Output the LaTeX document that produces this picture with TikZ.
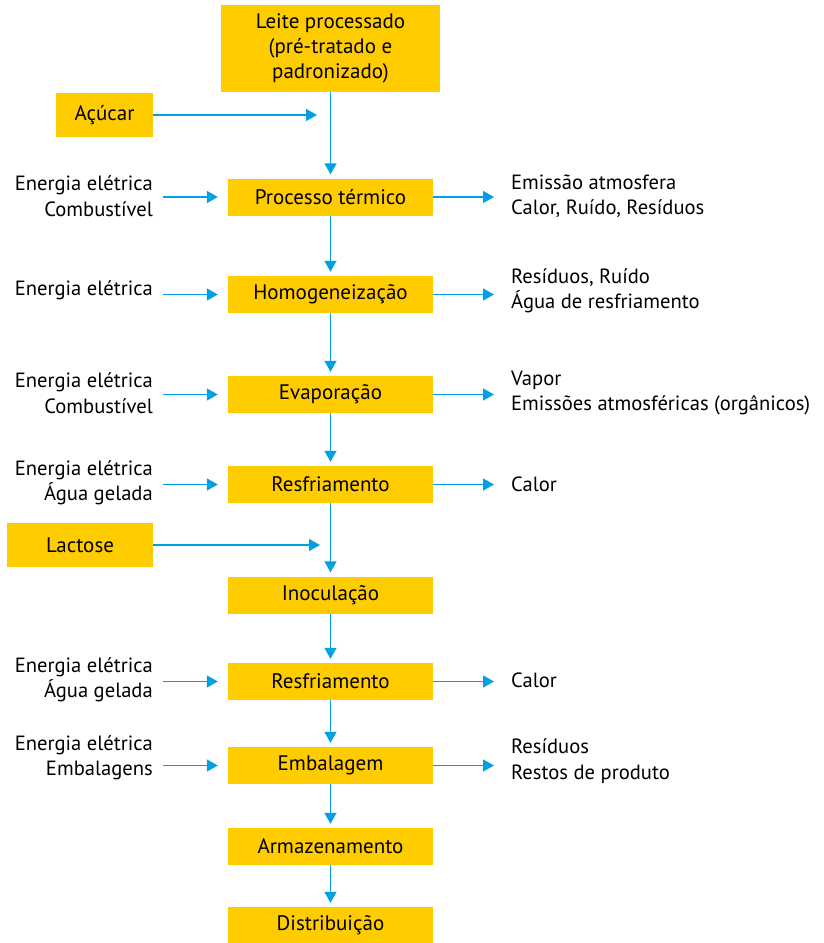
\documentclass[tikz,border=0pt]{standalone}
\usepackage{fontspec}
\setmainfont{PT Sans}
\usetikzlibrary{arrows.meta}
\definecolor{boxyellow}{RGB}{255,204,0}
\definecolor{flowblue}{RGB}{0,160,227}
\tikzset{
  stage/.style={fill=boxyellow, minimum width=205pt, minimum height=37pt, inner sep=0pt, font=\fontsize{21}{25}\selectfont},
  input/.style={fill=boxyellow, minimum height=44pt, inner sep=0pt, font=\fontsize{21}{25}\selectfont},
  lefttext/.style={anchor=east, align=right, inner sep=0pt, font=\fontsize{20.6}{25.5}\selectfont},
  righttext/.style={anchor=west, align=left, inner sep=0pt, font=\fontsize{20.6}{25.5}\selectfont},
  flow/.style={draw=flowblue, line width=1.5pt, -{Triangle[length=11pt,width=12pt]}, flowblue}
}
\begin{document}
\begin{tikzpicture}[x=1pt, y=-1pt]
    \useasboundingbox (0, 0) rectangle (824, 943);

    % main column
    \node[stage, minimum width=219pt, minimum height=87pt, align=center] (leite) at (330.5, 48.5) {Leite processado\\(pré-tratado e\\padronizado)};
    \node[stage] (pt) at (330.5, 197) {Processo térmico};
    \node[stage] (ho) at (330.5, 294.5) {Homogeneização};
    \node[stage] (ev) at (330.5, 394.5) {Evaporação};
    \node[stage] (rf1) at (330.5, 484.5) {Resfriamento};
    \node[stage] (ino) at (330.5, 595) {Inoculação};
    \node[stage] (rf2) at (330.5, 681.5) {Resfriamento};
    \node[stage] (emb) at (330.5, 765.5) {Embalagem};
    \node[stage] (arm) at (330.5, 846.5) {Armazenamento};
    \node[stage] (dis) at (330.5, 925.5) {Distribuição};

    % added ingredients
    \node[input, minimum width=97pt] (acucar) at (104.5, 115) {Açúcar};
    \node[input, minimum width=146pt] (lactose) at (80, 545) {Lactose};
    \coordinate (acucar_in) at (317, 115);
    \coordinate (lactose_in) at (320, 545);

    % inputs
    \node[lefttext] (inPT) at (153, 196) {Energia elétrica\\Combustível};
    \node[lefttext] (inHO) at (153, 290) {Energia elétrica};
    \node[lefttext] (inEV) at (153, 393) {Energia elétrica\\Combustível};
    \node[lefttext] (inRF1) at (153, 483) {Energia elétrica\\Água gelada};
    \node[lefttext] (inRF2) at (153, 680) {Energia elétrica\\Água gelada};
    \node[lefttext] (inEMB) at (153, 758) {Energia elétrica\\Embalagens};

    % outputs
    \node[righttext] (outPT) at (511, 196) {Emissão atmosfera\\Calor, Ruído, Resíduos};
    \node[righttext] (outHO) at (511, 291) {Resíduos, Ruído\\Água de resfriamento};
    \node[righttext] (outEV) at (511, 393) {Vapor\\Emissões atmosféricas (orgânicos)};
    \node[righttext] (outRF1) at (511, 484) {Calor};
    \node[righttext] (outRF2) at (511, 680) {Calor};
    \node[righttext] (outEMB) at (511, 761) {Resíduos\\Restos de produto};

    \draw[flow, shorten >=4pt] (leite) -- (pt);
    \draw[flow, shorten >=4pt] (pt) -- (ho);
    \draw[flow, shorten >=4pt] (ho) -- (ev);
    \draw[flow, shorten >=4pt] (ev) -- (rf1);
    \draw[flow, shorten >=4pt] (rf1) -- (ino);
    \draw[flow, shorten >=4pt] (ino) -- (rf2);
    \draw[flow, shorten >=4pt] (rf2) -- (emb);
    \draw[flow, shorten >=4pt] (emb) -- (arm);
    \draw[flow, shorten >=4pt] (arm) -- (dis);

    \draw[flow] (acucar) -- (acucar_in);
    \draw[flow] (lactose) -- (lactose_in);

    \draw[flow, shorten <=10pt, shorten >=10pt] (inPT.east |- pt.west) -- (pt.west);
    \draw[flow, shorten <=10pt, shorten >=10pt] (inHO.east |- ho.west) -- (ho.west);
    \draw[flow, shorten <=10pt, shorten >=10pt] (inEV.east |- ev.west) -- (ev.west);
    \draw[flow, shorten <=10pt, shorten >=10pt] (inRF1.east |- rf1.west) -- (rf1.west);
    \draw[flow, shorten <=10pt, shorten >=10pt] (inRF2.east |- rf2.west) -- (rf2.west);
    \draw[flow, shorten <=10pt, shorten >=10pt] (inEMB.east |- emb.west) -- (emb.west);

    \draw[flow, shorten >=17pt] (pt.east) -- (outPT.west |- pt.east);
    \draw[flow, shorten >=17pt] (ho.east) -- (outHO.west |- ho.east);
    \draw[flow, shorten >=17pt] (ev.east) -- (outEV.west |- ev.east);
    \draw[flow, shorten >=17pt] (rf1.east) -- (outRF1.west |- rf1.east);
    \draw[flow, shorten >=17pt] (rf2.east) -- (outRF2.west |- rf2.east);
    \draw[flow, shorten >=17pt] (emb.east) -- (outEMB.west |- emb.east);
  \end{tikzpicture}
\end{document}
